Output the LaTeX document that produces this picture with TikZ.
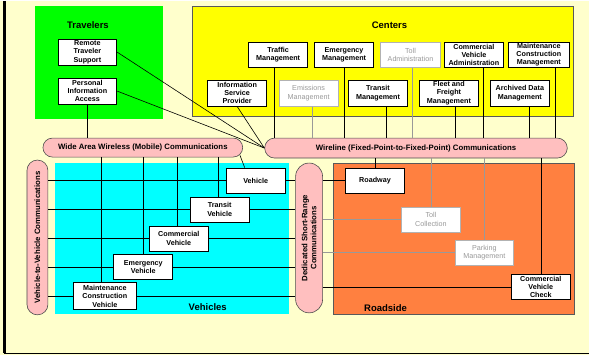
\documentclass[tikz,border=0pt]{standalone}
\usepackage{fontspec}
\setmainfont{Liberation Sans}
\definecolor{paper}{RGB}{255,255,204}
\definecolor{travgreen}{RGB}{0,255,0}
\definecolor{centyellow}{RGB}{255,255,0}
\definecolor{vehcyan}{RGB}{0,255,255}
\definecolor{roadorange}{RGB}{255,128,64}
\definecolor{pillpink}{RGB}{255,191,191}
\begin{document}
\begin{tikzpicture}
        [x=1pt,y=-1pt,
        box/.style={draw=black,fill=white,line width=0.8pt,minimum width=59pt,minimum height=25pt,
          inner sep=0pt,align=center,font=\fontsize{7.2}{8.2}\selectfont\bfseries},
        greybox/.style={box,draw=gray!60,text=gray!80,font=\fontsize{7.2}{8.2}\selectfont},
        pill/.style={draw=black!70,fill=pillpink,line width=0.6pt,inner sep=0pt,align=center,
          font=\fontsize{7.8}{9}\selectfont\bfseries},
        title/.style={font=\fontsize{9.5}{11}\selectfont\bfseries},
        link/.style={draw=black,line width=0.6pt},
        greylink/.style={draw=gray!80,line width=0.6pt}]
        % page and areas
        \fill[paper] (0,0) rectangle (590,354);
        \draw[line width=2.5pt] (4.5,0) -- (4.5,352.5);
        \draw[line width=1.5pt] (4,352.5) -- (590,352.5);
        \fill[travgreen] (35,5) rectangle (163,118);
        \filldraw[fill=centyellow,draw=black!65,line width=0.8pt] (193,5) rectangle (574,115);
        \fill[vehcyan] (55,162) rectangle (289,313);
        \filldraw[fill=roadorange,draw=black!65,line width=0.8pt] (334,162) rectangle (575,314);
        \node[title] (travelers) at (88,24) {Travelers};
        \node[title] (centers) at (390,24) {Centers};
        \node[title] (vehicles) at (208,306) {Vehicles};
        \node[title] (roadside) at (386,307) {Roadside};
        % travelers
        \node[box,minimum height=26pt] (rts) at (87.5,51) {Remote\\Traveler\\Support};
        \node[box,minimum height=26pt] (pia) at (87.5,90) {Personal\\Information\\Access};
        % centers
        \node[box] (tm) at (278.5,53.5) {Traffic\\Management};
        \node[box] (em) at (344.5,53.5) {Emergency\\Management};
        \node[greybox,minimum width=60pt] (ta) at (411,53.5) {Toll\\Administration};
        \node[box] (cva) at (474.5,53.5) {Commercial\\Vehicle\\Administration};
        \node[box,minimum width=61pt] (mcm) at (539.5,53.5) {Maintenance\\Construction\\Management};
        \node[box,minimum height=26pt] (isp) at (237.5,92) {Information\\Service\\Provider};
        \node[greybox,minimum height=26pt] (emm) at (309,92) {Emissions\\Management};
        \node[box,minimum height=26pt] (trm) at (378.5,92) {Transit\\Management};
        \node[box,minimum height=26pt] (ffm) at (449.5,92) {Fleet and\\Freight\\Management};
        \node[box,minimum height=26pt] (adm) at (520.5,92) {Archived Data\\Management};
        % communications
        \node[pill,rounded corners=9.5pt,minimum width=200pt,minimum height=19pt] (wide) at (143,146.5)
          {Wide Area Wireless (Mobile) Communications};
        \node[pill,rounded corners=10pt,minimum width=303pt,minimum height=20pt] (wire) at (416.5,147)
          {Wireline (Fixed-Point-to-Fixed-Point) Communications};
        \node[pill,rotate=90,rounded corners=10.5pt,minimum width=155pt,minimum height=21pt] (v2v) at (37.5,236.5)
          {Vehicle-to-Vehicle Communications};
        \node[pill,rotate=90,rounded corners=13.5pt,minimum width=150pt,minimum height=27pt] (dsrc) at (309.5,237)
          {Dedicated Short-Range\\Communications};
        % vehicles
        \node[box] (veh) at (256,179.5) {Vehicle};
        \node[box] (tv) at (220,208.5) {Transit\\Vehicle};
        \node[box] (cv) at (179,237.5) {Commercial\\Vehicle};
        \node[box,minimum height=26pt] (ev) at (143.5,266) {Emergency\\Vehicle};
        \node[box,minimum width=64pt,minimum height=27pt] (mcv) at (105,295.5) {Maintenance\\Construction\\Vehicle};
        % roadside
        \node[box] (road) at (375.5,179.5) {Roadway};
        \node[greybox] (tc) at (431.5,218.5) {Toll\\Collection};
        \node[greybox] (pm) at (485,251.5) {Parking\\Management};
        \node[box,minimum height=26pt] (cvc) at (541.5,286) {Commercial\\Vehicle\\Check};
        % links to the wireline
        \foreach \n/\dx in {tm/-3.5,em/0,trm/8.5,ffm/6.5,cva/9.5,adm/9.5,mcm/16.5}
          \draw[link] ([xshift=\dx pt]\n.south) -- ([xshift=\dx pt]\n.south |- wire.north);
        \foreach \n/\dx in {emm/4,ta/2}
          \draw[greylink] ([xshift=\dx pt]\n.south) -- ([xshift=\dx pt]\n.south |- wire.north);
        \draw[link] (rts.east) -- (wire.west);
        \draw[link] (pia.east) -- (wire.west);
        \draw[link] (isp.south) -- (wire.west);
        \draw[link] (pia.south) -- (pia.south |- wide.north);
        \foreach \n in {road,cvc}
          \draw[link] (\n.north) -- (\n.north |- wire.south);
        \foreach \n in {tc,pm}
          \draw[greylink] (\n.north) -- (\n.north |- wire.south);
        % wide area wireless to the vehicles
        \draw[link] ([xshift=-3pt,yshift=2pt]wide.south east) -- ([xshift=-11pt]veh.north);
        \foreach \n/\dx in {tv/-1,cv/-1,ev/0,mcv/-4}
          \draw[link] ([xshift=\dx pt]\n.north) -- ([xshift=\dx pt]\n.north |- wide.south);
        % vehicle-to-vehicle and short range
        \foreach \n in {veh,tv,cv,ev,mcv} {
          \draw[link] (v2v.south |- \n.west) -- (\n.west);
          \draw[link] (\n.east) -- (\n.east -| dsrc.north);
        }
        \foreach \n in {road,cvc}
          \draw[link] (dsrc.south |- \n.west) -- (\n.west);
        \foreach \n in {tc,pm}
          \draw[greylink] (dsrc.south |- \n.west) -- (\n.west);
\end{tikzpicture}
\end{document}
